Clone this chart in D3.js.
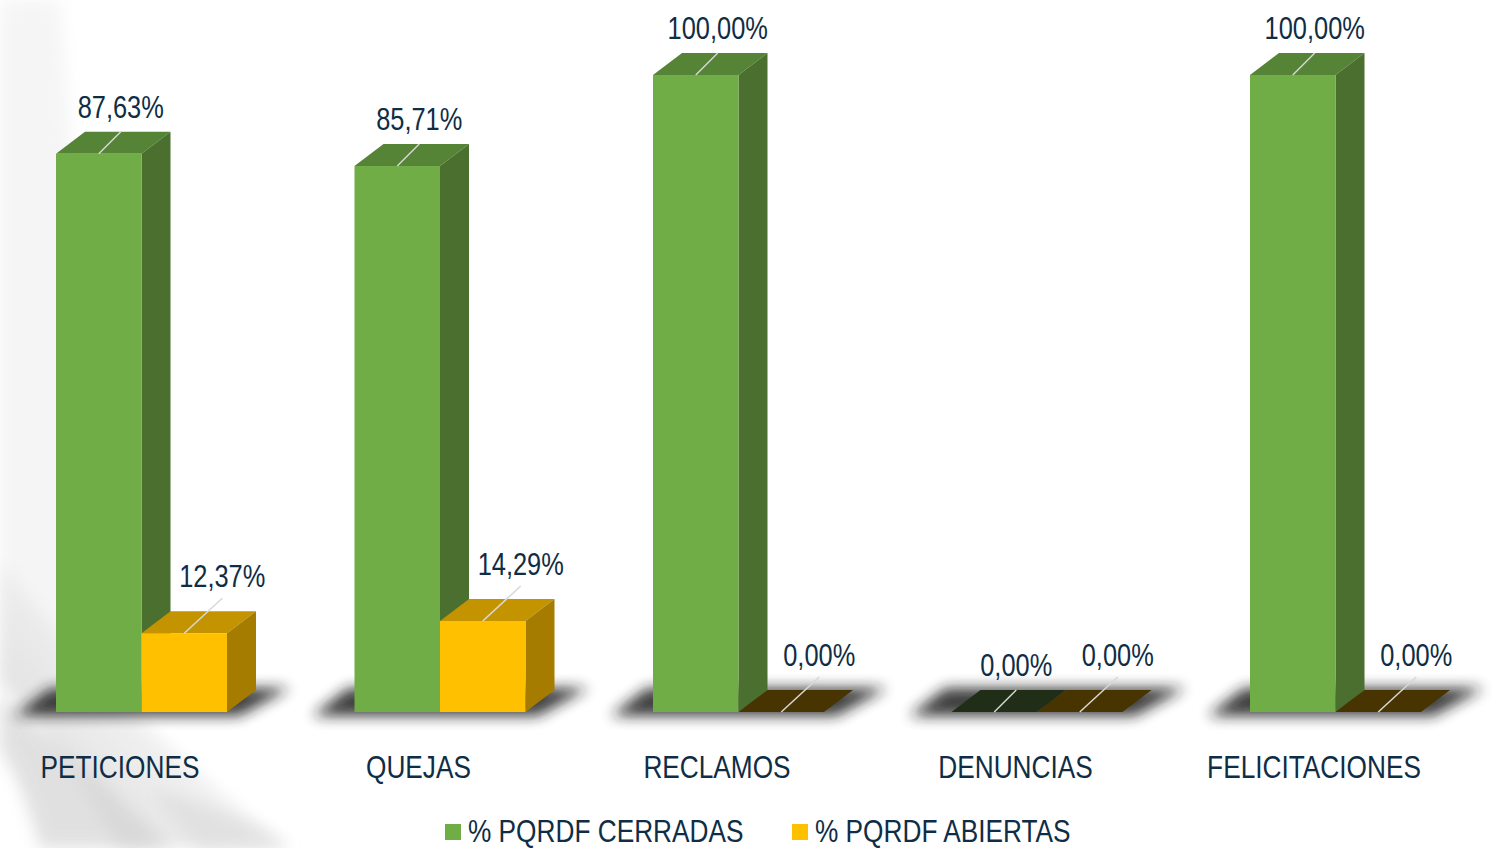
<!DOCTYPE html>
<html>
<head>
<meta charset="utf-8">
<script src="https://cdn.jsdelivr.net/npm/d3@7"></script>
<style>
    html, body { margin: 0; padding: 0; background: #ffffff; overflow: hidden; }
    svg { display: block; }
    text { font-family: "Liberation Sans", Arial, sans-serif; fill: #0f2d45; }
</style>
</head>
<body>
<div class="charts-div"></div>
<script>
// chart values
const categories = ["PETICIONES", "QUEJAS", "RECLAMOS", "DENUNCIAS", "FELICITACIONES"];
const seriesNames = ["% PQRDF CERRADAS", "% PQRDF ABIERTAS"];
const cerradas = [87.63, 85.71, 100, 0, 100];
const abiertas = [12.37, 14.29, 0, 0, 0];
const yDomain = [0, 100];

const width = 1493;
const height = 848;
const floorY = 712;
const topY = 75;
const depthX = 29; // 3d depth offset
const depthY = 22;
const narrow = 0.82; // horizontal squeeze to mimic a narrow font

// face colours for each series: front, top, side, top when value is zero
const palette = [
    { front: "#70ad47", top: "#568437", side: "#4a6f2f", flat: "#202e17" },
    { front: "#ffc000", top: "#c39300", side: "#a67c00", flat: "#473400" }
];

const formatPct = (v) => v.toFixed(2).replace(".", ",") + "%";
const narrowAt = (px, py) => `translate(${px},${py}) scale(${narrow},1)`;

const svg = d3.select(".charts-div").append("svg")
    .attr("width", width)
    .attr("height", height)
    .attr("viewBox", [0, 0, width, height]);

const defs = svg.append("defs");
defs.append("filter").attr("id", "shadowBlur")
    .attr("x", "-30%").attr("y", "-100%").attr("width", "160%").attr("height", "300%")
    .append("feGaussianBlur").attr("stdDeviation", 7);
defs.append("filter").attr("id", "bgBlur")
    .attr("x", "-50%").attr("y", "-50%").attr("width", "200%").attr("height", "200%")
    .append("feGaussianBlur").attr("stdDeviation", 8);

const swoosh = defs.append("linearGradient").attr("id", "swoosh")
    .attr("x1", 0).attr("y1", 1).attr("x2", 1).attr("y2", 0);
swoosh.append("stop").attr("offset", "0%").attr("stop-color", "#c8c8c8").attr("stop-opacity", 0.9);
swoosh.append("stop").attr("offset", "100%").attr("stop-color", "#ffffff").attr("stop-opacity", 0);

// background swoosh in the lower left corner
const bg = svg.append("g").attr("class", "background");
bg.append("path")
    .attr("d", "M0,0 L60,0 C80,250 100,500 55,700 L0,720 Z")
    .attr("fill", "#efefef").attr("opacity", 0.6).attr("filter", "url(#bgBlur)");
bg.append("path")
    .attr("d", "M0,560 C60,640 150,740 290,848 L120,848 C80,780 40,720 0,680 Z")
    .attr("fill", "url(#swoosh)").attr("filter", "url(#bgBlur)");
bg.append("path")
    .attr("d", "M0,700 C50,730 110,790 170,848 L40,848 C30,810 15,770 0,750 Z")
    .attr("fill", "#d4d4d4").attr("opacity", 0.7).attr("filter", "url(#bgBlur)");
bg.append("path")
    .attr("d", "M150,790 C200,800 250,820 290,848 L200,848 C180,830 165,810 150,790 Z")
    .attr("fill", "#dedede").attr("opacity", 0.8).attr("filter", "url(#bgBlur)");

// scales
const x = d3.scaleBand().domain(categories).range([-29.25, -29.25 + 298.5 * categories.length]).padding(0);
const xInner = d3.scaleBand().domain(seriesNames).range([85.25, 85.25 + 171]).padding(0);
const y = d3.scaleLinear().domain(yDomain).range([floorY, topY]);

const rows = categories.map((c, i) => ({ category: c, values: [cerradas[i], abiertas[i]] }));

// floor shadows
svg.append("g").attr("class", "shadows")
    .selectAll("path")
    .data(rows)
    .join("path")
    .attr("d", (d) => {
        const gx = x(d.category) + xInner.range()[0];
        const gw = xInner.range()[1] - xInner.range()[0];
        return `M${gx - 42},${floorY + 4} L${gx + gw + 12},${floorY + 4} L${gx + gw + depthX + 34},${floorY - depthY - 2} L${gx - 6},${floorY - depthY - 2} Z`;
    })
    .attr("fill", "#1a1a1a")
    .attr("opacity", 0.85)
    .attr("filter", "url(#shadowBlur)");

// bars
const bars = [];
rows.forEach((row) => {
    row.values.forEach((v, s) => {
        const x0 = x(row.category) + xInner(seriesNames[s]);
        const w = xInner.bandwidth();
        bars.push({ x0, w, top: y(v), value: v, s });
    });
});

const barG = svg.append("g").attr("class", "bars");
bars.forEach((b) => {
    const g = barG.append("g").attr("class", "visualPlotting");
    const col = palette[b.s];
    const flat = b.value === 0;
    // top face
    g.append("path")
        .attr("d", `M${b.x0},${b.top} L${b.x0 + depthX},${b.top - depthY} L${b.x0 + b.w + depthX},${b.top - depthY} L${b.x0 + b.w},${b.top} Z`)
        .attr("fill", flat ? col.flat : col.top);
    if (!flat) {
        // side face
        g.append("path")
            .attr("d", `M${b.x0 + b.w},${b.top} L${b.x0 + b.w + depthX},${b.top - depthY} L${b.x0 + b.w + depthX},${floorY - depthY} L${b.x0 + b.w},${floorY} Z`)
            .attr("fill", col.side);
        // front face
        g.append("rect")
            .attr("x", b.x0).attr("y", b.top)
            .attr("width", b.w).attr("height", floorY - b.top)
            .attr("fill", col.front);
    }
});

// data labels with leader lines
const labelG = svg.append("g").attr("class", "labels");
bars.forEach((b) => {
    const cx = b.x0 + b.w / 2;
    const backTop = b.top - depthY;
    const lx = b.s === 0 ? cx + 22 : cx + 38;
    const ly = b.s === 0 ? backTop - 14 : backTop - 24;
    labelG.append("line")
        .attr("x1", cx).attr("y1", b.top)
        .attr("x2", b.s === 0 ? cx + 22 : lx).attr("y2", b.s === 0 ? backTop : ly + 11)
        .attr("stroke", "#d8d8d8").attr("stroke-width", 1.5);
    labelG.append("text")
        .attr("transform", narrowAt(lx, ly))
        .attr("text-anchor", "middle")
        .attr("font-size", 31)
        .text(formatPct(b.value));
});

// category axis labels
svg.append("g").attr("class", "x-axis")
    .selectAll("text")
    .data(categories)
    .join("text")
    .attr("transform", (d) => narrowAt(x(d) + x.bandwidth() / 2, 778))
    .attr("text-anchor", "middle")
    .attr("font-size", 32)
    .text((d) => d);

// legend
const legendX = [445, 792];
const legend = svg.append("g").attr("class", "legend")
    .selectAll("g")
    .data(seriesNames)
    .join("g")
    .attr("transform", (d, i) => `translate(${legendX[i]},0)`);
legend.append("rect")
    .attr("x", 0).attr("y", 824)
    .attr("width", 16).attr("height", 16)
    .attr("fill", (d, i) => palette[i].front);
legend.append("text")
    .attr("transform", narrowAt(23, 842))
    .attr("font-size", 32)
    .text((d) => d);
</script>
</body>
</html>
